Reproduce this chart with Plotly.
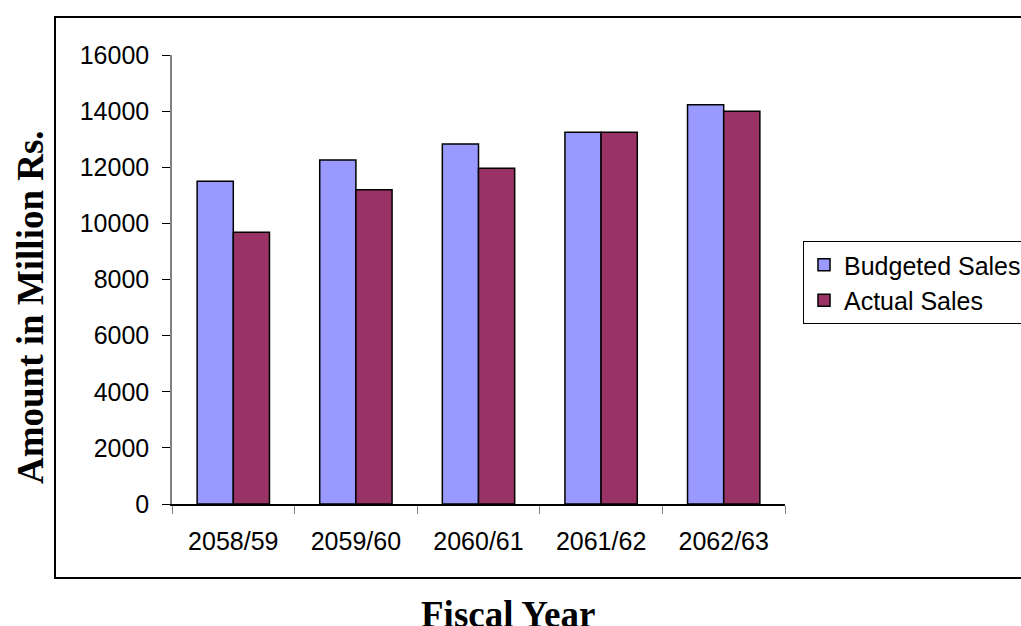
import plotly.graph_objects as go

years = ["2058/59", "2059/60", "2060/61", "2061/62", "2062/63"]
budgeted_sales = [11500, 12260, 12830, 13250, 14230]
actual_sales = [9680, 11200, 11960, 13250, 14000]
y_ticks = [0, 2000, 4000, 6000, 8000, 10000, 12000, 14000, 16000]

W, H = 1021, 626
L, R, T, B = 172, 236, 55, 122
PW, PH = W - L - R, H - T - B


def px(x):
    return (x - L) / PW


def py(y):
    return (H - B - y) / PH


fig = go.Figure()
fig.add_trace(go.Bar(name="Budgeted Sales", x=years, y=budgeted_sales,
                     marker=dict(color="#9999FF", line=dict(color="black", width=1.5))))
fig.add_trace(go.Bar(name="Actual Sales", x=years, y=actual_sales,
                     marker=dict(color="#993366", line=dict(color="black", width=1.5))))

fig.update_layout(
    width=W, height=H,
    margin=dict(l=L, r=R, t=T, b=B, pad=0, autoexpand=False),
    paper_bgcolor="white", plot_bgcolor="white",
    barmode="group", bargap=0.41, bargroupgap=0,
    font=dict(family="Liberation Sans, Arial, sans-serif", size=25, color="black"),
    showlegend=True,
    legend=dict(x=px(803), y=py(241), xanchor="left", yanchor="top",
                bordercolor="black", borderwidth=1, bgcolor="white",
                font=dict(size=25)),
    xaxis=dict(type="category", range=[-0.5, 4.5], showgrid=False,
               showline=True, linecolor="black", linewidth=1.5,
               ticks="outside", tickson="boundaries", ticklen=8, tickcolor="#808080",
               ticklabelstandoff=14,
               tickfont=dict(size=25)),
    yaxis=dict(range=[0, 16000], tickvals=y_ticks, tickformat="d", showgrid=False,
               zeroline=False, showline=True, linecolor="#808080", linewidth=1.5,
               ticks="outside", ticklen=8, tickcolor="black",
               ticklabelstandoff=8,
               tickfont=dict(size=25)),
    shapes=[dict(type="rect", xref="paper", yref="paper",
                 x0=px(55), x1=px(1060), y0=py(578), y1=py(17),
                 line=dict(color="black", width=2), layer="below")],
    annotations=[
        dict(text="<b>Amount in Million Rs.</b>", xref="paper", yref="paper",
             x=px(30), y=py(307), xanchor="center", yanchor="middle",
             textangle=-90, showarrow=False,
             font=dict(family="Liberation Serif, Times New Roman, serif", size=37)),
        dict(text="<b>Fiscal Year</b>", xref="paper", yref="paper",
             x=px(507.5), y=py(614), xanchor="center", yanchor="middle",
             showarrow=False,
             font=dict(family="Liberation Serif, Times New Roman, serif", size=37)),
    ],
)

fig.write_html("out.html")
